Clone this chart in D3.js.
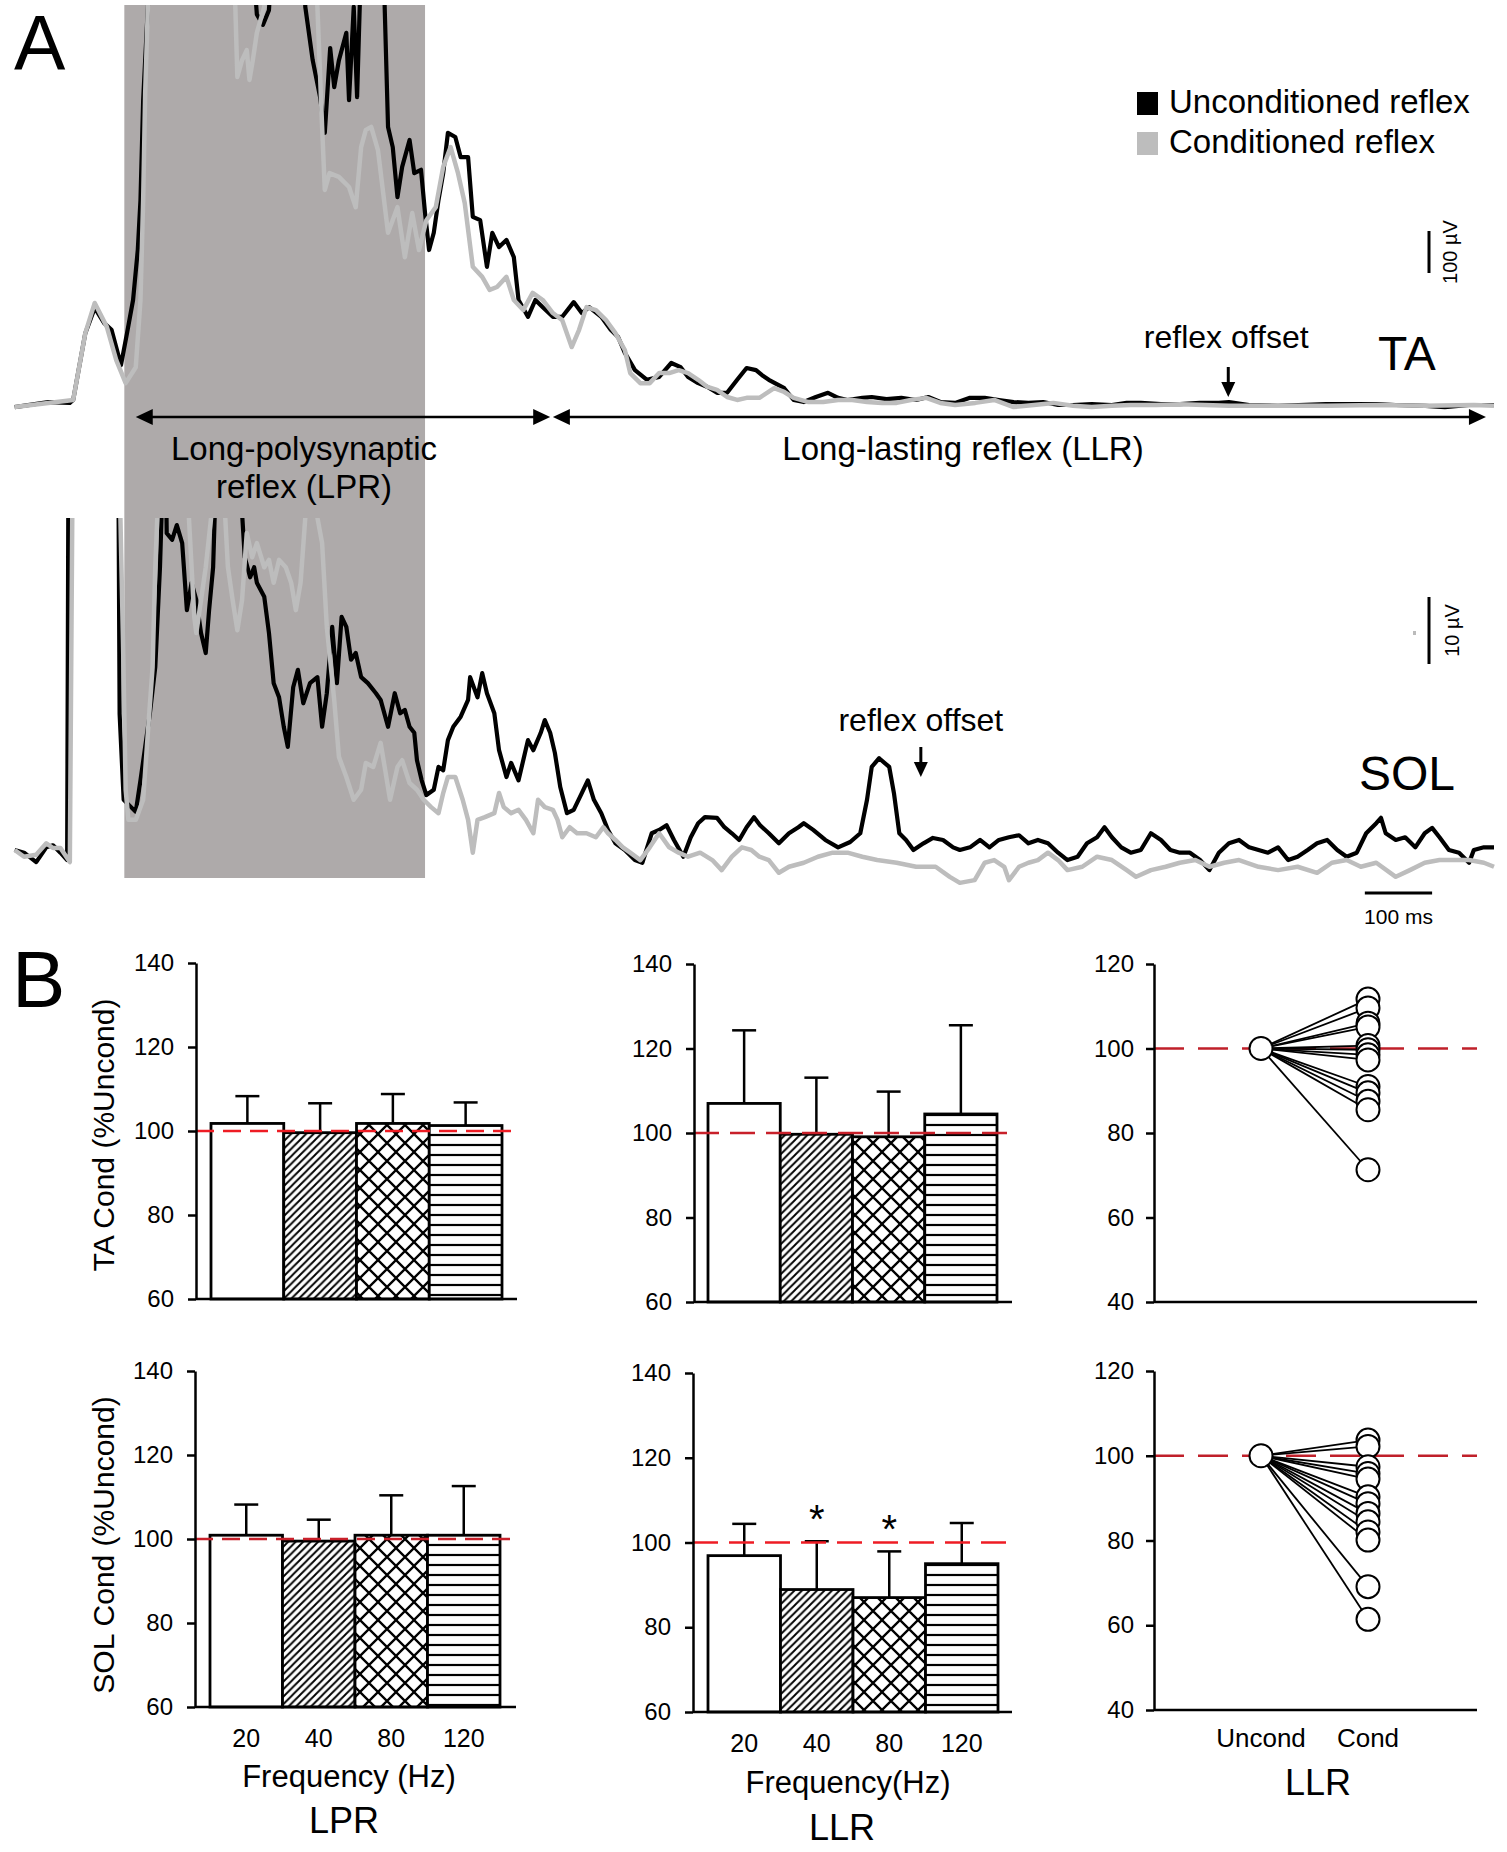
<!DOCTYPE html>
<html><head><meta charset="utf-8">
<script src="https://cdn.jsdelivr.net/npm/d3@7"></script>
<style>body{margin:0;background:#fff}svg{display:block}</style>
</head><body>
<svg id="c" width="1507" height="1852"></svg>
<script>
// ---------------- DATA ----------------
// Panel A traces: [time (ms), amplitude (µV)]
const taUncond = [[1,-5],[51,7],[83,5],[88,12],[106,171],[120,231],[134,195],[145,179],[159,95],[168,171],[177,250],[184,369],[188,488],[192,726],[199,948],[215,1400],[340,1400],[361,930],[370,905],[379,940],[395,1400],[425,1400],[433,948],[444,821],[455,733],[462,648],[470,850],[476,757],[483,821],[494,886],[498,726],[505,948],[510,733],[514,952],[532,1300],[548,1300],[551,948],[556,662],[563,614],[570,495],[577,567],[588,631],[595,552],[605,560],[611,457],[617,369],[624,410],[631,488],[638,552],[645,648],[656,638],[664,590],[675,590],[682,448],[693,440],[703,329],[711,410],[721,376],[732,393],[743,352],[750,250],[764,210],[775,250],[786,233],[801,210],[815,210],[832,245],[844,219],[855,233],[873,210],[887,179],[898,162],[908,124],[923,83],[941,60],[959,67],[977,100],[991,90],[1002,67],[1017,52],[1031,43],[1045,29],[1060,29],[1075,60],[1089,88],[1103,83],[1112,71],[1122,60],[1145,40],[1159,12],[1174,7],[1192,19],[1210,29],[1225,17],[1239,12],[1261,17],[1275,19],[1297,14],[1319,17],[1341,12],[1359,19],[1377,7],[1399,5],[1421,17],[1443,17],[1464,12],[1486,7],[1508,5],[1530,7],[1552,0],[1574,0],[1602,2],[1632,0],[1654,5],[1675,5],[1705,2],[1733,2],[1763,5],[1791,5],[1806,7],[1836,0],[1879,-2],[1950,2],[2025,2],[2054,0],[2098,-2],[2127,-5],[2163,0],[2200,0]];
const taCond = [[1,-5],[51,5],[88,12],[106,171],[120,243],[138,186],[152,107],[166,52],[181,90],[188,250],[192,488],[195,743],[199,948],[215,1400],[315,1400],[329,948],[332,781],[339,821],[346,845],[350,774],[355,821],[361,886],[372,948],[385,1400],[440,1400],[451,948],[458,662],[462,512],[469,552],[483,543],[498,519],[508,471],[516,614],[523,655],[531,662],[541,607],[556,410],[570,471],[581,352],[592,457],[602,369],[613,440],[627,471],[638,567],[649,614],[660,552],[670,481],[682,329],[696,305],[707,274],[718,281],[732,305],[743,250],[757,226],[771,267],[786,250],[801,219],[815,202],[829,138],[840,179],[851,233],[865,226],[880,202],[894,171],[908,131],[916,76],[931,52],[945,52],[959,76],[974,76],[988,83],[1002,76],[1017,60],[1031,43],[1045,36],[1060,19],[1075,12],[1089,17],[1108,17],[1130,40],[1145,31],[1159,17],[1181,7],[1203,7],[1225,12],[1246,12],[1268,7],[1290,5],[1312,5],[1333,12],[1356,17],[1377,5],[1399,0],[1429,5],[1457,12],[1486,-5],[1516,0],[1545,5],[1574,-2],[1602,-5],[1632,-2],[1660,0],[1698,0],[1733,2],[1770,0],[1806,-2],[1879,-2],[1952,-2],[2025,0],[2098,-2],[2170,0],[2200,-2]];
const solUncond = [[1,-0.3],[15,-0.7],[33,-2.1],[48,0.1],[58,0.4],[69,-0.7],[79,-1.8],[81,60],[155,60],[157,20],[163,7.2],[174,6.1],[181,5.4],[188,10.1],[195,15.1],[202,20.1],[210,27],[217,41.9],[221,55],[226,55],[227,47],[235,46],[242,48.2],[250,45.5],[257,35.5],[264,39.6],[271,37],[278,32.1],[285,29.1],[290,35.5],[296,41.9],[300,55],[336,55],[343,43.4],[351,40.4],[357,41.9],[361,39.6],[372,37.5],[379,32.1],[386,24.6],[394,22.5],[401,18.1],[407,15.1],[415,24],[422,26.6],[430,21.6],[440,24.6],[451,25.5],[458,18.1],[465,23.1],[473,33],[480,24.6],[487,34.5],[494,33],[501,28.1],[508,29.1],[516,25.5],[526,24.6],[538,23.1],[545,22.1],[556,18.1],[566,23.1],[574,20.1],[581,20.6],[588,18.1],[595,17.2],[599,13.1],[606,10.1],[613,7.9],[624,8.7],[631,12.1],[638,11.6],[645,16.1],[653,18.1],[664,19.6],[675,22.1],[678,25.5],[689,22.5],[696,26.1],[703,23.1],[714,20.1],[721,14.6],[732,10.6],[739,12.7],[750,10.1],[757,13.1],[764,16.1],[772,14.6],[783,17.2],[789,19.1],[797,17.2],[804,14.2],[812,9.1],[822,5.2],[832,5.7],[844,8.2],[853,10.1],[862,7.2],[873,5.2],[883,2.7],[894,0.7],[908,-0.3],[923,-1.8],[934,-2.2],[948,2.2],[959,2.7],[970,3.4],[981,1.2],[995,-1.3],[1006,1.6],[1017,3.7],[1027,4.6],[1045,4.5],[1056,3.1],[1067,2.2],[1078,1.2],[1089,3.1],[1100,4.6],[1109,3.4],[1122,2.2],[1137,0.7],[1152,2.2],[1166,3.1],[1174,3.7],[1188,2.7],[1206,1.2],[1225,0.1],[1243,0.9],[1258,2.2],[1268,7.2],[1275,12.1],[1286,13.4],[1301,12.1],[1308,8.2],[1316,2.2],[1326,1.2],[1337,-0.3],[1352,0.7],[1366,1.5],[1381,1.2],[1396,0.1],[1406,-0.3],[1421,0.1],[1436,1.2],[1450,0.1],[1464,1.2],[1479,1.6],[1494,1.9],[1508,0.7],[1522,1.2],[1537,0.7],[1552,-0.7],[1566,-1.8],[1581,-1.3],[1595,0.7],[1610,1.6],[1621,3.1],[1632,1.6],[1646,0.1],[1660,-0.7],[1675,-0.3],[1690,2.2],[1705,1.2],[1719,-0.3],[1733,-0.7],[1748,-0.7],[1763,-1.8],[1777,-3.3],[1791,-0.7],[1806,0.7],[1821,1.2],[1836,0.1],[1850,-0.3],[1864,-0.7],[1879,0.1],[1894,-1.8],[1908,-1.3],[1923,-0.3],[1937,0.7],[1952,1.2],[1967,-0.3],[1981,-1.3],[1996,-0.7],[2010,2.2],[2025,3.7],[2032,4.5],[2039,2.2],[2054,1.2],[2068,1.6],[2083,0.1],[2097,2.2],[2108,3.0],[2119,1.6],[2133,-0.3],[2148,-0.7],[2163,-2.2],[2170,-0.3],[2185,0.1],[2200,0.1]];
const solCond = [[1,-0.3],[15,-1.3],[33,-1.0],[48,0.7],[58,0],[69,0],[83,-2.1],[87,55],[157,55],[162,31],[166,8.7],[170,4.2],[181,4.2],[192,7.2],[199,17.2],[206,27],[210,41.9],[213,49.3],[216,55],[257,55],[260,49.3],[268,34.5],[271,32.1],[278,37],[285,41.9],[293,49.3],[297,55],[310,55],[314,49.3],[318,41.9],[325,37],[332,32.5],[339,37],[346,47],[354,43.4],[361,45.5],[372,41.9],[379,43],[386,39.6],[394,43],[404,41.9],[412,39.6],[419,35.5],[426,39.6],[433,49.3],[437,55],[447,55],[451,49.3],[458,45.5],[465,33],[476,22.1],[483,13.6],[494,10.6],[505,7.2],[516,8.7],[523,12.7],[534,12.1],[545,15.7],[551,12.1],[559,7.2],[570,12.1],[577,13.1],[588,9.7],[599,8.7],[609,7.2],[620,6.1],[631,5.2],[638,8.2],[645,10.6],[656,10.6],[667,7.2],[675,4.2],[682,-0.7],[689,4.2],[700,4.6],[714,5.2],[721,8.2],[728,6.1],[739,5.2],[750,5.7],[761,4.2],[772,2.2],[779,7.2],[789,6.1],[801,5.7],[808,4.2],[815,1.6],[826,3.1],[837,2.2],[851,2.2],[865,1.6],[876,3.1],[883,2.2],[894,1.2],[905,0.1],[916,-0.7],[931,-1.8],[945,0.1],[959,2.2],[974,0.1],[988,-0.7],[1002,-1.3],[1020,-0.7],[1038,-1.8],[1052,-3.3],[1067,-1.3],[1082,0.1],[1096,-0.3],[1108,-1.3],[1122,-1.8],[1137,-3.7],[1152,-2.8],[1174,-2.2],[1195,-1.3],[1217,-0.7],[1239,-0.7],[1261,-1.3],[1283,-1.8],[1312,-2.2],[1341,-2.8],[1370,-2.8],[1391,-4.3],[1406,-5.2],[1428,-4.8],[1443,-2.2],[1457,-1.8],[1472,-2.8],[1479,-4.8],[1494,-2.8],[1508,-2.2],[1522,-1.8],[1537,-0.7],[1552,-1.8],[1566,-3.3],[1588,-2.8],[1610,-1.3],[1632,-1.8],[1654,-3.3],[1668,-4.3],[1690,-3.3],[1712,-2.8],[1733,-2.2],[1756,-1.8],[1777,-2.8],[1799,-2.2],[1821,-1.8],[1850,-2.8],[1879,-3.3],[1908,-2.8],[1937,-3.7],[1959,-2.2],[1981,-1.8],[2002,-2.8],[2025,-2.2],[2054,-4.3],[2075,-3.3],[2097,-2.2],[2119,-1.8],[2141,-1.8],[2163,-1.8],[2185,-2.2],[2200,-2.8]];
const lprWindowMs = [164, 611];
const lprArrowMs = [181, 797];
const llrArrowMs = [801, 2188];
const taOffsetMs = 1805;
const solOffsetMs = 1348;

// Panel B
const freqCats = ["20","40","80","120"];
const taLPRmean = [101.8, 99.6, 101.8, 101.3];
const taLPRerr  = [6.5, 7.0, 7.0, 5.5];
const taLLRmean = [107.0, 99.7, 99.1, 104.5];
const taLLRerr  = [17.3, 13.4, 10.7, 21.0];
const solLPRmean = [100.9, 99.5, 100.9, 100.9];
const solLPRerr  = [7.3, 5.1, 9.5, 11.7];
const solLLRmean = [96.9, 88.9, 87.0, 95.0];
const solLLRerr  = [7.5, 11.4, 10.9, 9.6];
const solLLRsig  = [false, true, true, false];
const pairCats = ["Uncond","Cond"];
const taPairCond  = [111.7, 109.6, 106.0, 105.1, 100.7, 99.7, 98.5, 97.3, 91.0, 89.5, 87.5, 85.5, 71.3];
const solPairCond = [103.7, 102.2, 97.4, 95.8, 94.5, 90.3, 88.7, 86.4, 84.4, 82.0, 80.1, 69.1, 61.4];
const barTicks = [60,80,100,120,140];
const pairTicks = [40,60,80,100,120];

// ---------------- DRAW ----------------
const FONT = '"Liberation Sans", Arial, Helvetica, sans-serif';
const W = 1507;
const svg = d3.select("#c").attr("font-family", FONT);
const defs = svg.append("defs");

const xT = d3.scaleLinear().domain([0,2200]).range([14,1494]);
const yTA = d3.scaleLinear().domain([0,100]).range([405,363]);
const ySOL = d3.scaleLinear().domain([0,10]).range([848,781]);

defs.append("clipPath").attr("id","clipTA").append("rect").attr("x",0).attr("y",5).attr("width",W).attr("height",495);
defs.append("clipPath").attr("id","clipSOL").append("rect").attr("x",0).attr("y",518).attr("width",W).attr("height",400);

// gray LPR window
svg.append("rect").attr("x",xT(lprWindowMs[0])).attr("y",5)
  .attr("width",xT(lprWindowMs[1])-xT(lprWindowMs[0])).attr("height",873).attr("fill","#aeaaaa");

const BLACK="#000", GRAY="#bdbdbd";
const lineTA = d3.line().x(d=>xT(d[0])).y(d=>yTA(d[1]));
const lineSOL = d3.line().x(d=>xT(d[0])).y(d=>ySOL(d[1]));
const gTA = svg.append("g").attr("clip-path","url(#clipTA)");
gTA.append("path").attr("d",lineTA(taUncond)).attr("fill","none").attr("stroke",BLACK).attr("stroke-width",4.2).attr("stroke-linejoin","round");
gTA.append("path").attr("d",lineTA(taCond)).attr("fill","none").attr("stroke",GRAY).attr("stroke-width",4.5).attr("stroke-linejoin","round");
const gSOL = svg.append("g").attr("clip-path","url(#clipSOL)");
gSOL.append("path").attr("d",lineSOL(solUncond)).attr("fill","none").attr("stroke",BLACK).attr("stroke-width",4.2).attr("stroke-linejoin","round");
gSOL.append("path").attr("d",lineSOL(solCond)).attr("fill","none").attr("stroke",GRAY).attr("stroke-width",4.5).attr("stroke-linejoin","round");

// double arrows
function dblArrow(x1,x2,y){
  svg.append("line").attr("x1",x1+10).attr("x2",x2-10).attr("y1",y).attr("y2",y).attr("stroke","#000").attr("stroke-width",2.5);
  svg.append("path").attr("d",`M${x1},${y}L${x1+17},${y-8}L${x1+17},${y+8}Z`).attr("fill","#000");
  svg.append("path").attr("d",`M${x2},${y}L${x2-17},${y-8}L${x2-17},${y+8}Z`).attr("fill","#000");
}
dblArrow(xT(lprArrowMs[0]), xT(lprArrowMs[1]), 417);
dblArrow(xT(llrArrowMs[0]), xT(llrArrowMs[1]), 417);

function txt(x,y,s,size,anchor){
  return svg.append("text").attr("x",x).attr("y",y).attr("font-size",size).attr("text-anchor",anchor||"start").attr("fill","#000").text(s);
}
txt(14,70,"A",77);
txt(12,1007,"B",80);
txt(304,460,"Long-polysynaptic",33,"middle");
txt(304,498,"reflex (LPR)",33,"middle");
txt(963,460,"Long-lasting reflex (LLR)",33,"middle");

// legend
svg.append("rect").attr("x",1137).attr("y",92).attr("width",21).attr("height",23).attr("fill","#000");
svg.append("rect").attr("x",1137).attr("y",132).attr("width",21).attr("height",23).attr("fill",GRAY);
txt(1169,113,"Unconditioned reflex",33);
txt(1169,153,"Conditioned reflex",33);

// reflex offset markers
function downArrow(x,y1,y2){
  svg.append("line").attr("x1",x).attr("x2",x).attr("y1",y1).attr("y2",y2-12).attr("stroke","#000").attr("stroke-width",3);
  svg.append("path").attr("d",`M${x-7},${y2-15}L${x+7},${y2-15}L${x},${y2}Z`).attr("fill","#000");
}
txt(xT(taOffsetMs)-2,348,"reflex offset",32,"middle");
downArrow(xT(taOffsetMs),367,397);
txt(xT(solOffsetMs),731,"reflex offset",32,"middle");
downArrow(xT(solOffsetMs),747,777);
txt(1378,370,"TA",48);
txt(1359,790,"SOL",48);

// scale bars
const taBarOff = 132, solBarOff = 184;
svg.append("line").attr("x1",1429).attr("x2",1429).attr("y1",yTA(0)-taBarOff).attr("y2",yTA(100)-taBarOff).attr("stroke","#000").attr("stroke-width",3);
svg.append("text").attr("transform",`translate(1457,${(yTA(0)+yTA(100))/2-taBarOff}) rotate(-90)`).attr("font-size",20).attr("text-anchor","middle").text("100 µV");
svg.append("line").attr("x1",1429).attr("x2",1429).attr("y1",ySOL(0)-solBarOff).attr("y2",ySOL(10)-solBarOff).attr("stroke","#000").attr("stroke-width",3);
svg.append("text").attr("transform",`translate(1459,${(ySOL(0)+ySOL(10))/2-solBarOff}) rotate(-90)`).attr("font-size",20).attr("text-anchor","middle").text("10 µV");
svg.append("rect").attr("x",1413).attr("y",631).attr("width",3).attr("height",4).attr("fill","#bbb");
svg.append("line").attr("x1",xT(2008)).attr("x2",xT(2108)).attr("y1",893).attr("y2",893).attr("stroke","#000").attr("stroke-width",3);
txt((xT(2008)+xT(2108))/2,924,"100 ms",21,"middle");

// ---------- Panel B ----------
function mkPattern(id,w,h,build){
  const p=defs.append("pattern").attr("id",id).attr("patternUnits","userSpaceOnUse").attr("width",w).attr("height",h);
  p.append("rect").attr("width",w).attr("height",h).attr("fill","#fff");
  build(p);
}
mkPattern("pDiag",7.5,7.5,p=>p.append("path").attr("d","M-2,2L2,-2M0,7.5L7.5,0M5.5,9.5L9.5,5.5").attr("stroke","#000").attr("stroke-width",1.9));
mkPattern("pCross",18,18,p=>p.append("path").attr("d","M0,0L18,18M0,18L18,0").attr("stroke","#000").attr("stroke-width",2.3));
mkPattern("pHor",10,10,p=>p.append("path").attr("d","M0,5H10").attr("stroke","#000").attr("stroke-width",2.2));
const barFills = ["#fff","url(#pDiag)","url(#pCross)","url(#pHor)"];

function styleAxis(ax){
  ax.attr("font-size",24).attr("font-family",FONT);
  ax.select(".domain").attr("stroke-width",2.5);
  ax.selectAll(".tick line").attr("stroke-width",2.5);
  ax.selectAll(".tick text").attr("fill","#000");
}

function barChart(c){
  const y=d3.scaleLinear().domain([60,140]).range([c.yBot,c.yTop]);
  const x=d3.scaleBand().domain(freqCats).range([c.b0,c.b1]).padding(0);
  const g=svg.append("g");
  const rows=freqCats.map((k,i)=>({k,m:c.mean[i],e:c.err[i],f:barFills[i],sig:c.sig?c.sig[i]:false}));
  g.selectAll("rect.bar").data(rows).join("rect").attr("class","bar")
    .attr("x",d=>x(d.k)).attr("y",d=>y(d.m)).attr("width",x.bandwidth()).attr("height",d=>y(60)-y(d.m))
    .attr("fill",d=>d.f).attr("stroke","#000").attr("stroke-width",2.8);
  const cx=d=>x(d.k)+x.bandwidth()/2;
  g.selectAll("line.err").data(rows).join("line").attr("class","err")
    .attr("x1",cx).attr("x2",cx).attr("y1",d=>y(d.m)).attr("y2",d=>y(d.m+d.e)).attr("stroke","#000").attr("stroke-width",2.5);
  g.selectAll("line.cap").data(rows).join("line").attr("class","cap")
    .attr("x1",d=>cx(d)-12).attr("x2",d=>cx(d)+12).attr("y1",d=>y(d.m+d.e)).attr("y2",d=>y(d.m+d.e)).attr("stroke","#000").attr("stroke-width",2.5);
  g.selectAll("text.sig").data(rows.filter(d=>d.sig)).join("text").attr("class","sig")
    .attr("x",cx).attr("y",d=>y(d.m+d.e)-8).attr("text-anchor","middle").attr("font-size",40).text("*");
  g.append("line").attr("x1",c.x0).attr("x2",c.x1).attr("y1",y(100)).attr("y2",y(100))
    .attr("stroke",c.dash).attr("stroke-width",2.5).attr("stroke-dasharray",c.dashArr);
  const ax=g.append("g").attr("transform",`translate(${c.x0},0)`)
    .call(d3.axisLeft(y).tickValues(barTicks).tickSize(8).tickSizeOuter(0).tickPadding(14));
  styleAxis(ax);
  g.append("line").attr("x1",c.x0).attr("x2",c.x1).attr("y1",y(60)).attr("y2",y(60)).attr("stroke","#000").attr("stroke-width",2.5);
  if(c.xlabels){
    g.selectAll("text.xl").data(freqCats).join("text").attr("class","xl")
      .attr("x",d=>x(d)+x.bandwidth()/2).attr("y",c.xlabY).attr("text-anchor","middle").attr("font-size",25).text(d=>d);
  }
}

function pairChart(c){
  const y=d3.scaleLinear().domain([40,120]).range([c.yBot,c.yTop]);
  const x=d3.scalePoint().domain(pairCats).range([1261,1368]);
  const g=svg.append("g");
  g.append("line").attr("x1",c.x0).attr("x2",c.x1).attr("y1",y(100)).attr("y2",y(100))
    .attr("stroke",c.dash).attr("stroke-width",2.5).attr("stroke-dasharray",c.dashArr);
  g.selectAll("line.pl").data(c.vals).join("line").attr("class","pl")
    .attr("x1",x("Uncond")).attr("y1",y(100)).attr("x2",x("Cond")).attr("y2",d=>y(d)).attr("stroke","#000").attr("stroke-width",1.8);
  g.selectAll("circle.pc").data(c.vals).join("circle").attr("class","pc")
    .attr("cx",x("Cond")).attr("cy",d=>y(d)).attr("r",11.5).attr("fill","#fff").attr("stroke","#000").attr("stroke-width",2);
  g.append("circle").attr("cx",x("Uncond")).attr("cy",y(100)).attr("r",11.5).attr("fill","#fff").attr("stroke","#000").attr("stroke-width",2);
  const ax=g.append("g").attr("transform",`translate(${c.x0},0)`)
    .call(d3.axisLeft(y).tickValues(pairTicks).tickSize(8).tickSizeOuter(0).tickPadding(12));
  styleAxis(ax);
  g.append("line").attr("x1",c.x0).attr("x2",c.x1).attr("y1",y(40)).attr("y2",y(40)).attr("stroke","#000").attr("stroke-width",2.5);
  if(c.xlabels){
    g.selectAll("text.xl").data(pairCats).join("text").attr("class","xl")
      .attr("x",d=>x(d)).attr("y",c.xlabY).attr("text-anchor","middle").attr("font-size",26).text(d=>d);
  }
}

barChart({x0:196,x1:517,b0:211,b1:502,yTop:963,yBot:1299,mean:taLPRmean,err:taLPRerr,dash:"#ee1c24",dashArr:"18,9"});
barChart({x0:694,x1:1012,b0:708,b1:997,yTop:964,yBot:1302,mean:taLLRmean,err:taLLRerr,dash:"#c8202a",dashArr:"25,11"});
pairChart({x0:1154,x1:1477,yTop:964,yBot:1302,vals:taPairCond,dash:"#c0202a",dashArr:"30,14"});
barChart({x0:195,x1:516,b0:210,b1:500,yTop:1371,yBot:1707,mean:solLPRmean,err:solLPRerr,dash:"#c8202a",dashArr:"18,9",xlabels:true,xlabY:1747});
barChart({x0:693,x1:1012,b0:708,b1:998,yTop:1373,yBot:1712,mean:solLLRmean,err:solLLRerr,sig:solLLRsig,dash:"#ee1c24",dashArr:"25,11",xlabels:true,xlabY:1752});
pairChart({x0:1154,x1:1477,yTop:1371,yBot:1710,vals:solPairCond,dash:"#c0202a",dashArr:"30,14",xlabels:true,xlabY:1747});

// axis titles
svg.append("text").attr("transform","translate(114,1135) rotate(-90)").attr("font-size",30).attr("text-anchor","middle").text("TA Cond (%Uncond)");
svg.append("text").attr("transform","translate(114,1545) rotate(-90)").attr("font-size",30).attr("text-anchor","middle").text("SOL Cond (%Uncond)");
txt(349,1787,"Frequency (Hz)",31,"middle");
txt(848,1793,"Frequency(Hz)",31,"middle");
txt(344,1833,"LPR",36,"middle");
txt(842,1840,"LLR",36,"middle");
txt(1318,1795,"LLR",36,"middle");
</script>
</body></html>
